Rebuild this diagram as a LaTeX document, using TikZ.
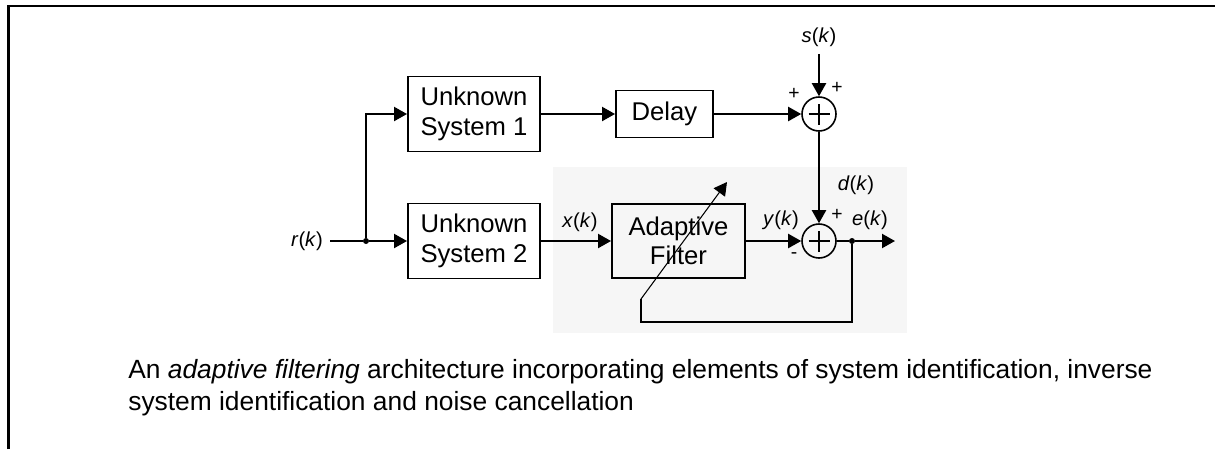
\documentclass[tikz,border=0pt]{standalone}
\usepackage{fontspec}
\setmainfont{Liberation Sans}
\usetikzlibrary{arrows.meta, positioning}
\definecolor{PanelGray}{RGB}{246, 246, 246}
\newcommand{\sgl}[1]{\textit{#1}(\textit{k})}

\begin{document}
\begin{tikzpicture}[x=0.2mm, y=-0.2mm, >={Triangle[length=7.4pt, width=8pt]},
    block/.style={draw, line width=1.1pt, align=center, inner sep=2pt, minimum width=2.64cm, minimum height=1.5cm, font=\fontsize{14.6}{16.8}\selectfont},
    summer/.style={circle, draw, line width=0.9pt, minimum size=0.68cm, inner sep=0pt,
      path picture={\draw[line width=1.6pt] ([xshift=-0.21cm]path picture bounding box.center) -- ([xshift=0.21cm]path picture bounding box.center)
        ([yshift=-0.21cm]path picture bounding box.center) -- ([yshift=0.21cm]path picture bounding box.center);}},
    lbl/.style={font=\fontsize{11.5}{13}\selectfont, inner sep=4pt},
    sgn/.style={font=\fontsize{11}{12}\selectfont, inner sep=0pt},
    wire/.style={line width=1.1pt},
    dot/.style={circle, fill, inner sep=0pt, minimum size=0.12cm}
  ]
  \useasboundingbox (0,0) rectangle (1215,449);
  \fill[PanelGray] (553,167) rectangle (907,333);
  \draw[line width=1.7pt] (8.5,449) -- (8.5,6) -- (1215,6);

  \node[block] (sys1) at (474,114) {Unknown\\System 1};
  \node[block] (sys2) at (474,241) {Unknown\\System 2};
  \node[block, minimum width=1.94cm, minimum height=0.94cm] (dly) at (664.5,114) {Delay};
  \node[block, minimum width=2.66cm, minimum height=1.48cm] (af) at (678.5,241) {Adaptive\\Filter};
  \node[summer] (sum1) at (819,114) {};
  \node[summer] (sum2) at (819,241) {};
  \node[dot] (jn) at (366,241) {};
  \node[dot] (tap) at (852,241) {};
  \coordinate (out) at (895,241);
  \coordinate (fb) at (641,322);
  \coordinate (fbt) at (641,299);
  \coordinate (adj) at (727,182);

  \node[lbl] (rk) at (307,241) {\sgl{r}};
  \node[lbl] (sk) at (819,37) {\sgl{s}};
  \node[lbl] (xk) at (580,222) {\sgl{x}};
  \node[lbl] (yk) at (781,220) {\sgl{y}};
  \node[lbl] (dk) at (856,185) {\sgl{d}};
  \node[lbl] (ek) at (870,220) {\sgl{e}};
  \node[sgn] (p1) at (794,94) {+};
  \node[sgn] (p2) at (837,88) {+};
  \node[sgn] (p3) at (837,215) {+};
  \node[sgn] (m1) at (794,256) {-};

  \draw[wire] (rk) -- (jn);
  \draw[wire, ->] (jn) -- (sys2);
  \draw[wire, ->] (jn) |- (sys1);
  \draw[wire, ->] (sys1) -- (dly);
  \draw[wire, ->] (dly) -- (sum1);
  \draw[wire, ->] (sk) -- (sum1);
  \draw[wire, ->] (sum1) -- (sum2);
  \draw[wire, ->] (sys2) -- (af);
  \draw[wire, ->] (af) -- (sum2);
  \draw[wire] (sum2) -- (tap);
  \draw[wire, ->] (tap) -- (out);
  \draw[wire] (tap) |- (fb) -- (fbt);
  \draw[line width=0.6pt, ->] (fbt) -- (adj);

  \node[anchor=west, align=left, inner sep=0pt, font=\fontsize{15}{18.2}\selectfont] (cap) at (128,388)
    {An \textit{adaptive filtering} architecture incorporating elements of system identification, inverse\\system identification and noise cancellation};
\end{tikzpicture}
\end{document}
